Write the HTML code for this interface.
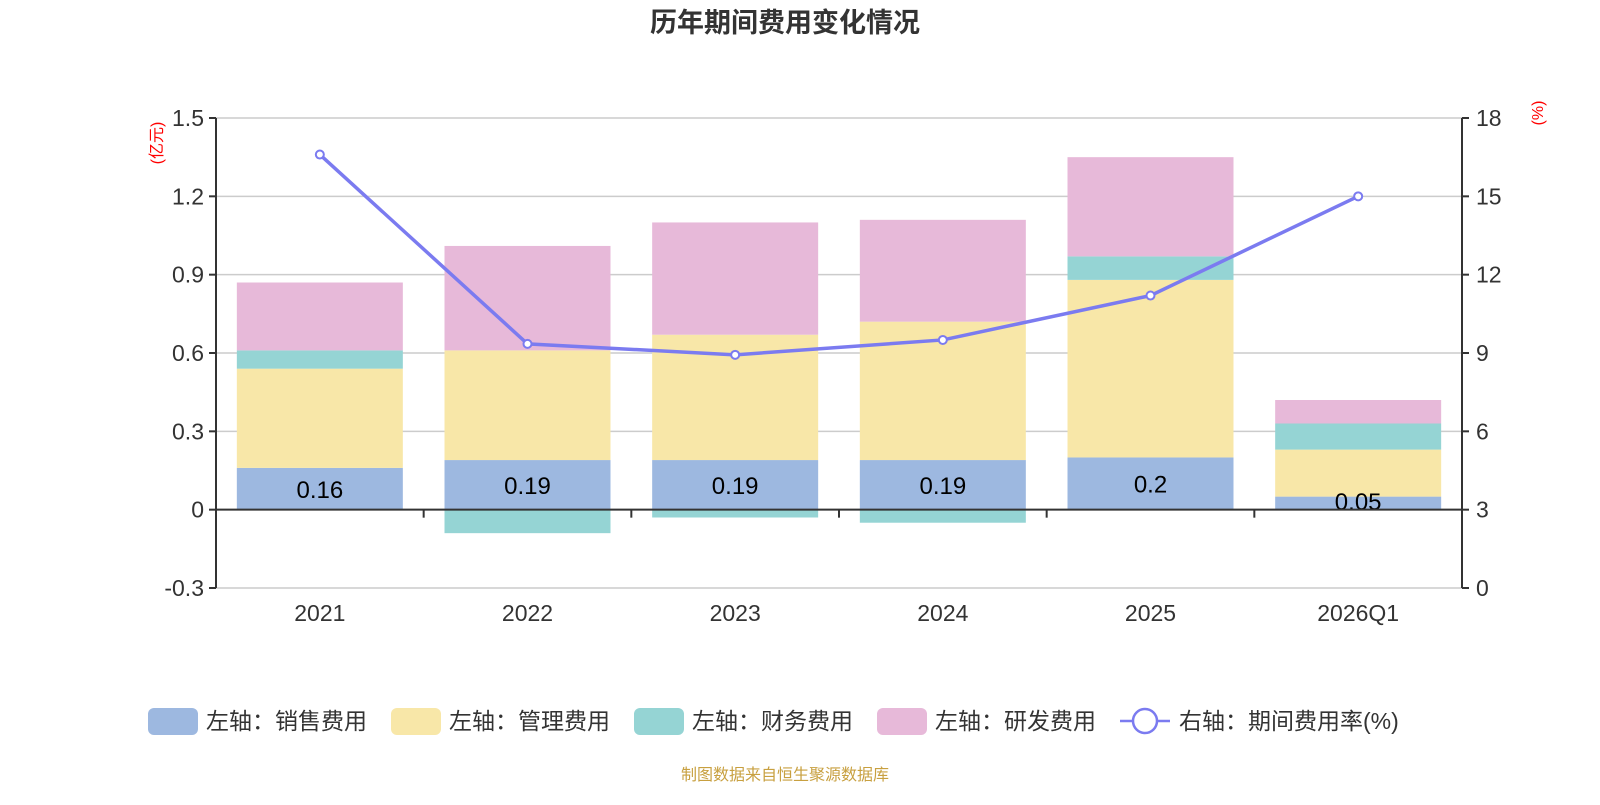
<!DOCTYPE html>
<html><head><meta charset="utf-8"><style>
body{margin:0;background:#fff;}
svg text{font-family:"Liberation Sans","Noto Sans CJK SC",sans-serif;}
</style></head><body>
<svg id="c" width="1600" height="800" xmlns="http://www.w3.org/2000/svg">
<text x="785" y="32" text-anchor="middle" font-size="27" font-weight="bold" fill="#333">历年期间费用变化情况</text>
<text x="785" y="780" text-anchor="middle" font-size="16" fill="#c8a040">制图数据来自恒生聚源数据库</text>
<g id="grid"></g><g id="bars"></g><g id="axes"></g><g id="line"></g><g id="legend"></g>
</svg>
<script>
const categories=["2021","2022","2023","2024","2025","2026Q1"];
const sales=[0.16,0.19,0.19,0.19,0.20,0.05];
const mgmt=[0.38,0.42,0.48,0.53,0.68,0.18];
const fin=[0.07,-0.09,-0.03,-0.05,0.09,0.10];
const rd=[0.26,0.40,0.43,0.39,0.38,0.09];
const rate=[16.6,9.35,8.93,9.5,11.2,15.0];
const leftTicks=[-0.3,0,0.3,0.6,0.9,1.2,1.5];
const rightTicks=[0,3,6,9,12,15,18];
const NS="http://www.w3.org/2000/svg";
const X0=216,X1=1462,Y0=118,Y1=588;
const yL=v=>Y0+(1.5-v)/1.8*(Y1-Y0);
const yR=v=>Y0+(18-v)/18*(Y1-Y0);
const band=(X1-X0)/categories.length;
const xC=i=>X0+band*(i+0.5);
function mk(tag,attrs,parent){const e=document.createElementNS(NS,tag);for(const k in attrs)e.setAttribute(k,attrs[k]);document.getElementById(parent).appendChild(e);return e;}
leftTicks.forEach((t,i)=>{
 const y=yL(t);
 const g=mk("line",{x1:X0,x2:X1,y1:y,y2:y,stroke:"#ccc","stroke-width":1.5},"grid");
 
 
 const tl=mk("text",{x:X0-12,y:y+8,"text-anchor":"end","font-size":23,fill:"#333"},"axes");tl.textContent=t===0?"0":String(t);
 
 
 mk("line",{x1:X0-7,x2:X0,y1:y,y2:y,stroke:"#333","stroke-width":2},"axes");
});
rightTicks.forEach(t=>{
 const y=yR(t);
 const tl=mk("text",{x:X1+14,y:y+8,"font-size":23,fill:"#333"},"axes");tl.textContent=String(t);
 
 
 mk("line",{x1:X1,x2:X1+7,y1:y,y2:y,stroke:"#333","stroke-width":2},"axes");
});
mk("line",{x1:X0,x2:X0,y1:Y0,y2:Y1,stroke:"#333","stroke-width":2},"axes");
mk("line",{x1:X1,x2:X1,y1:Y0,y2:Y1,stroke:"#333","stroke-width":2},"axes");
mk("line",{x1:X0,x2:X1,y1:yL(0),y2:yL(0),stroke:"#333","stroke-width":2},"axes");
const u=mk("text",{x:162,y:143,"font-size":16,fill:"red","text-anchor":"middle",transform:"rotate(-90 162 143)"},"axes");u.textContent="(亿元)";


const u2=mk("text",{x:1543,y:113,"font-size":16,fill:"red","text-anchor":"middle",transform:"rotate(-90 1543 113)"},"axes");u2.textContent="(%)";


categories.forEach((c,i)=>{
 if(i>0) mk("line",{x1:X0+band*i,x2:X0+band*i,y1:yL(0),y2:yL(0)+8,stroke:"#333","stroke-width":2},"axes");
 const t=mk("text",{x:xC(i),y:621,"text-anchor":"middle","font-size":23,fill:"#333"},"axes");t.textContent=c;
 
 
});
const series=[[sales,"#9db8e0","sales"],[mgmt,"#f8e7a8","mgmt"],[fin,"#95d4d4","finance"],[rd,"#e7b9d9","rnd"]];
const bw=166;
categories.forEach((c,i)=>{
 let pos=0,neg=0;
 series.forEach(([arr,col,nm])=>{
  const v=arr[i];let a,b;
  if(v>=0){a=pos;b=pos+v;pos=b;}else{a=neg;b=neg+v;neg=b;}
  const yt=yL(Math.max(a,b)),yb=yL(Math.min(a,b));
  const r=mk("rect",{x:xC(i)-bw/2,y:yt,width:bw,height:yb-yt,fill:col},"bars");
  
  
 });
 const t=mk("text",{x:xC(i),y:(yL(0)+yL(sales[i]))/2+9+ (sales[i]<0.1?-2:0),"text-anchor":"middle","font-size":24,fill:"#000"},"bars");
 t.textContent=String(sales[i]);
 
 
});
const pts=rate.map((v,i)=>xC(i)+","+yR(v)).join(" ");
const pl=mk("polyline",{points:pts,fill:"none",stroke:"#7b7bf0","stroke-width":3.5},"line");


rate.forEach((v,i)=>{
 const p=mk("circle",{cx:xC(i),cy:yR(v),r:4,fill:"#fff",stroke:"#7b7bf0","stroke-width":2},"line");
 
 
});
const legend=[["左轴：销售费用","#9db8e0",148],["左轴：管理费用","#f8e7a8",391],["左轴：财务费用","#95d4d4",634],["左轴：研发费用","#e7b9d9",877]];
legend.forEach(([lab,col,x])=>{
 const r=mk("rect",{x:x,y:708,width:50,height:27,rx:6,fill:col},"legend");
 
 
 const t=mk("text",{x:x+58,y:729,"font-size":23,fill:"#333"},"legend");t.textContent=lab;
 
 
});
mk("line",{x1:1120,x2:1170,y1:721,y2:721,stroke:"#7b7bf0","stroke-width":2.5},"legend");
const lc=mk("circle",{cx:1145,cy:721,r:12,fill:"#fff",stroke:"#7b7bf0","stroke-width":2.5},"legend");


const lt=mk("text",{x:1179,y:729,"font-size":23,fill:"#333"},"legend");lt.textContent="右轴：期间费用率(%)";


</script>
</body></html>
